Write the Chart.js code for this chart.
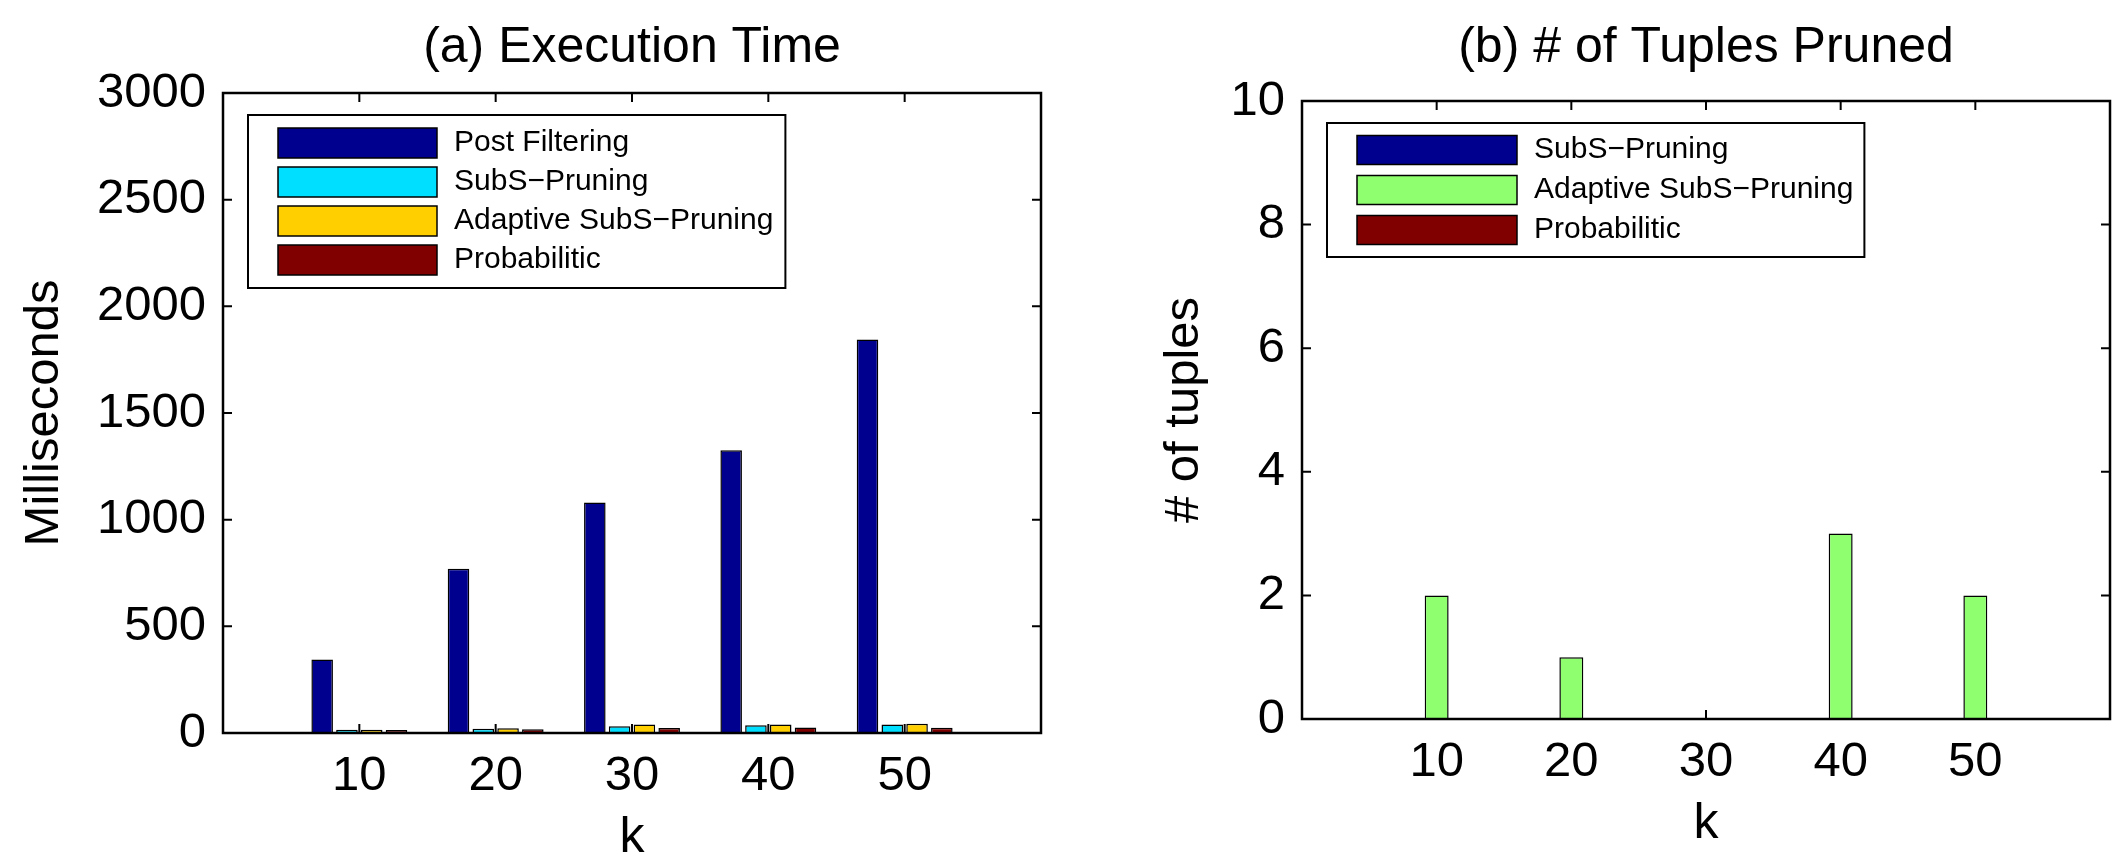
<!DOCTYPE html>
<html>
<head>
<meta charset="utf-8">
<script src="https://cdn.jsdelivr.net/npm/chart.js@4.4.1/dist/chart.umd.min.js"></script>
<style>
  html, body { margin: 0; padding: 0; background: #fff; }
  #wrap { position: relative; width: 2124px; height: 863px; overflow: hidden; }
  canvas { position: absolute; top: 0; }
  #time-chart { left: 0; }
  #pruned-chart { left: 1062px; }
</style>
</head>
<body>
<div id="wrap">
  <canvas id="time-chart" width="1062" height="863"></canvas>
  <canvas id="pruned-chart" width="1062" height="863"></canvas>
</div>
<script>
// k values (x axis)
const kValues = [10, 20, 30, 40, 50];

// (a) execution time, ms
const postFiltering = [345, 770, 1080, 1325, 1845];
const subsPruning = [15, 20, 32, 36, 40];
const adaptivePruning = [15, 22, 40, 40, 43];
const probabilistic = [14, 17, 24, 26, 25];

// (b) # of tuples pruned
const prunedSubs = [0, 0, 0, 0, 0];
const prunedAdaptive = [2, 1, 0, 3, 2];
const prunedProb = [0, 0, 0, 0, 0];

const FONT = "'Liberation Sans', Arial, Helvetica, sans-serif";
const INK = '#000';

const toPoints = vals => kValues.map((k, i) => ({ x: k, y: vals[i] }));

// matlab style box with inward ticks
const matlabAxes = {
  id: 'matlabAxes',
  beforeDatasetsDraw(chart) {
    const { ctx, chartArea: a, scales: { x, y } } = chart;
    const len = 9;
    ctx.save();
    ctx.strokeStyle = '#000';
    ctx.lineWidth = 2;
    ctx.beginPath();
    x.ticks.forEach(t => {
      if (t.value <= x.min || t.value >= x.max) return;
      const px = x.getPixelForValue(t.value);
      ctx.moveTo(px, a.bottom); ctx.lineTo(px, a.bottom - len);
      ctx.moveTo(px, a.top); ctx.lineTo(px, a.top + len);
    });
    y.ticks.forEach(t => {
      if (t.value <= y.min || t.value >= y.max) return;
      const py = y.getPixelForValue(t.value);
      ctx.moveTo(a.left, py); ctx.lineTo(a.left + len, py);
      ctx.moveTo(a.right, py); ctx.lineTo(a.right - len, py);
    });
    ctx.stroke();
    ctx.restore();
  },
  afterDatasetsDraw(chart) {
    const { ctx, chartArea: a } = chart;
    ctx.save();
    ctx.strokeStyle = '#000';
    ctx.lineWidth = 2.5;
    ctx.strokeRect(a.left, a.top, a.right - a.left, a.bottom - a.top);
    ctx.restore();
  }
};

// legend box drawn inside the plot (top left)
const boxLegend = {
  id: 'boxLegend',
  afterDraw(chart, args, opts) {
    const { ctx, chartArea: a } = chart;
    const sets = chart.data.datasets;
    ctx.save();
    ctx.font = `${opts.fontSize}px ${FONT}`;
    const textW = Math.max(...sets.map(d => ctx.measureText(d.label).width));
    const left = a.left + opts.offsetX;
    const top = a.top + opts.offsetY;
    const w = opts.swatchX + opts.swatchW + opts.gap + textW + opts.padRight;
    const h = opts.padY * 2 + opts.rowH * (sets.length - 1);
    ctx.fillStyle = '#fff';
    ctx.fillRect(left, top, w, h);
    ctx.strokeStyle = '#000';
    ctx.lineWidth = 2;
    ctx.strokeRect(left, top, w, h);
    sets.forEach((d, i) => {
      const cy = top + opts.padY + i * opts.rowH;
      const sx = left + opts.swatchX;
      ctx.fillStyle = d.backgroundColor;
      ctx.fillRect(sx, cy - opts.swatchH / 2, opts.swatchW, opts.swatchH);
      ctx.lineWidth = 1.5;
      ctx.strokeRect(sx, cy - opts.swatchH / 2, opts.swatchW, opts.swatchH);
      ctx.fillStyle = INK;
      ctx.textAlign = 'left';
      ctx.textBaseline = 'middle';
      ctx.fillText(d.label, sx + opts.swatchW + opts.gap, cy);
    });
    ctx.restore();
  }
};

function makeChart(id, cfg) {
  return new Chart(document.getElementById(id), {
    type: 'bar',
    data: { datasets: cfg.datasets },
    options: {
      responsive: false,
      animation: false,
      layout: { padding: { left: 0, right: cfg.padRight, top: 0, bottom: 0 } },
      datasets: {
        bar: {
          categoryPercentage: cfg.catPct,
          barPercentage: cfg.barPct,
          borderColor: '#000',
          borderWidth: 1.5,
        },
      },
      plugins: {
        legend: { display: false },
        tooltip: { enabled: false },
        title: {
          display: true,
          text: cfg.title,
          fullSize: false,
          color: INK,
          font: { family: FONT, size: 50, weight: 'normal' },
          padding: { top: 18, bottom: cfg.titleGap },
        },
        boxLegend: cfg.legend,
      },
      scales: {
        x: {
          type: 'linear',
          min: 0,
          max: 60,
          offset: false,
          grid: { display: false, drawTicks: false, offset: false },
          border: { display: false },
          ticks: {
            stepSize: 10,
            padding: 14,
            color: INK,
            font: { family: FONT, size: 49 },
            callback: v => (v > 0 && v < 60 ? String(v) : ''),
          },
          title: {
            display: true,
            text: 'k',
            color: INK,
            font: { family: FONT, size: 50, lineHeight: 1 },
            padding: { top: 0, bottom: cfg.kGap },
          },
          afterFit: s => { s.height = cfg.xHeight; },
        },
        y: {
          min: 0,
          max: cfg.yMax,
          grid: { display: false, drawTicks: false },
          border: { display: false },
          ticks: {
            stepSize: cfg.yStep,
            padding: 17,
            color: INK,
            font: { family: FONT, size: 49 },
            callback: v => String(v),
          },
          title: {
            display: true,
            text: cfg.yTitle,
            color: INK,
            font: { family: FONT, size: 49 },
            padding: { top: cfg.yTitleGap, bottom: 0 },
          },
          afterFit: s => { s.width = cfg.yWidth; },
        },
      },
    },
    plugins: [matlabAxes, boxLegend],
  });
}

makeChart('time-chart', {
  title: '(a) Execution Time',
  yTitle: 'Milliseconds',
  yMax: 3000,
  yStep: 500,
  catPct: 0.727,
  barPct: 0.87,
  padRight: 21,
  yWidth: 223,
  xHeight: 130,
  titleGap: 15,
  kGap: 0,
  yTitleGap: 15,
  legend: { offsetX: 25, offsetY: 22, swatchX: 30, swatchW: 159, swatchH: 30, gap: 17, padRight: 12, padY: 28, rowH: 39, fontSize: 30 },
  datasets: [
    { label: 'Post Filtering', data: toPoints(postFiltering), backgroundColor: '#00008F' },
    { label: 'SubS\u2212Pruning', data: toPoints(subsPruning), backgroundColor: '#00DFFF' },
    { label: 'Adaptive SubS\u2212Pruning', data: toPoints(adaptivePruning), backgroundColor: '#FFCF00' },
    { label: 'Probabilitic', data: toPoints(probabilistic), backgroundColor: '#800000' },
  ],
});

makeChart('pruned-chart', {
  title: '(b) # of Tuples Pruned',
  yTitle: '# of tuples',
  yMax: 10,
  yStep: 2,
  catPct: 0.667,
  barPct: 0.8,
  padRight: 2,
  yWidth: 240,
  xHeight: 144,
  titleGap: 23,
  kGap: 14,
  yTitleGap: 93,
  legend: { offsetX: 25, offsetY: 22, swatchX: 30, swatchW: 160, swatchH: 29, gap: 17, padRight: 11, padY: 27, rowH: 40, fontSize: 30 },
  datasets: [
    { label: 'SubS\u2212Pruning', data: toPoints(prunedSubs), backgroundColor: '#00008F' },
    { label: 'Adaptive SubS\u2212Pruning', data: toPoints(prunedAdaptive), backgroundColor: '#8FFF70' },
    { label: 'Probabilitic', data: toPoints(prunedProb), backgroundColor: '#800000' },
  ],
});
</script>
</body>
</html>
